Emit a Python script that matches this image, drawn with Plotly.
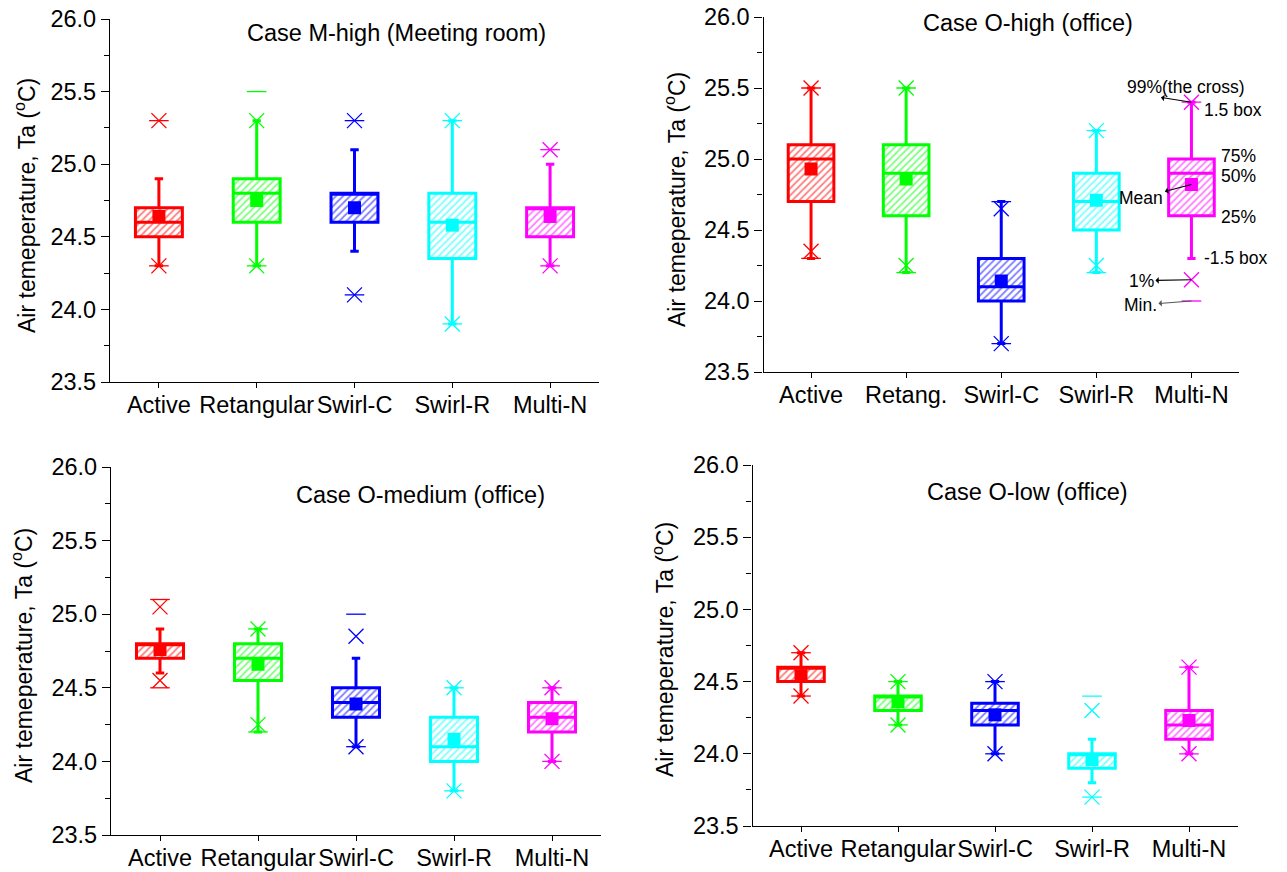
import plotly.graph_objects as go

# ---------------- data ----------------
COLORS = ["#FF0000", "#00FF00", "#0000FF", "#00FFFF", "#FF00FF"]

CATS_MH = ["Active", "Retangular", "Swirl-C", "Swirl-R", "Multi-N"]
MH_Q1 = [24.50, 24.60, 24.60, 24.35, 24.50]
MH_MED = [24.60, 24.80, 24.80, 24.60, 24.70]
MH_Q3 = [24.70, 24.90, 24.80, 24.80, 24.70]
MH_WLO = [24.30, 24.30, 24.40, 23.90, 24.30]
MH_WHI = [24.90, 25.30, 25.10, 25.30, 25.00]
MH_MEAN = [24.64, 24.75, 24.70, 24.58, 24.64]
MH_P1 = [24.30, 24.30, 24.10, 23.90, 24.30]
MH_P99 = [25.30, 25.30, 25.30, 25.30, 25.10]
MH_MIN = [24.30, 24.30, 24.10, 23.90, 24.30]
MH_MAX = [25.30, 25.50, 25.30, 25.30, 25.10]

CATS_OH = ["Active", "Retang.", "Swirl-C", "Swirl-R", "Multi-N"]
OH_Q1 = [24.70, 24.60, 24.00, 24.50, 24.60]
OH_MED = [25.00, 24.90, 24.10, 24.70, 24.90]
OH_Q3 = [25.10, 25.10, 24.30, 24.90, 25.00]
OH_WLO = [24.30, 24.20, 23.70, 24.20, 24.30]
OH_WHI = [25.50, 25.50, 24.70, 25.20, 25.40]
OH_MEAN = [24.93, 24.86, 24.14, 24.71, 24.82]
OH_P1 = [24.35, 24.25, 23.70, 24.25, 24.15]
OH_P99 = [25.50, 25.50, 24.65, 25.20, 25.40]
OH_MIN = [24.30, 24.20, 23.70, 24.20, 24.00]
OH_MAX = [25.50, 25.50, 24.70, 25.20, 25.40]

CATS_OM = ["Active", "Retangular", "Swirl-C", "Swirl-R", "Multi-N"]
OM_Q1 = [24.70, 24.55, 24.30, 24.00, 24.20]
OM_MED = [24.80, 24.70, 24.40, 24.10, 24.30]
OM_Q3 = [24.80, 24.80, 24.50, 24.30, 24.40]
OM_WLO = [24.60, 24.20, 24.10, 23.80, 24.00]
OM_WHI = [24.90, 24.90, 24.70, 24.50, 24.50]
OM_MEAN = [24.76, 24.66, 24.39, 24.15, 24.29]
OM_P1 = [24.55, 24.25, 24.10, 23.80, 24.00]
OM_P99 = [25.05, 24.90, 24.85, 24.50, 24.50]
OM_MIN = [24.50, 24.20, 24.10, 23.80, 24.00]
OM_MAX = [25.10, 24.90, 25.00, 24.50, 24.50]

CATS_OL = ["Active", "Retangular", "Swirl-C", "Swirl-R", "Multi-N"]
OL_Q1 = [24.50, 24.30, 24.20, 23.90, 24.10]
OL_MED = [24.60, 24.40, 24.30, 24.00, 24.20]
OL_Q3 = [24.60, 24.40, 24.35, 24.00, 24.30]
OL_WLO = [24.40, 24.20, 24.00, 23.80, 24.00]
OL_WHI = [24.70, 24.50, 24.50, 24.10, 24.60]
OL_MEAN = [24.54, 24.36, 24.27, 23.96, 24.23]
OL_P1 = [24.40, 24.20, 24.00, 23.70, 24.00]
OL_P99 = [24.70, 24.50, 24.50, 24.30, 24.60]
OL_MIN = [24.40, 24.20, 24.00, 23.70, 24.00]
OL_MAX = [24.70, 24.50, 24.50, 24.40, 24.60]

TITLES = ["Case M-high (Meeting room)", "Case O-high (office)",
          "Case O-medium (office)", "Case O-low (office)"]
YTITLE = "Air temeperature, Ta (<sup>o</sup>C)"

FONT = "Arial, Liberation Sans, sans-serif"
BOXW = 0.48

panels = [
    (CATS_MH, MH_Q1, MH_MED, MH_Q3, MH_WLO, MH_WHI, MH_MEAN, MH_P1, MH_P99, MH_MIN, MH_MAX),
    (CATS_OH, OH_Q1, OH_MED, OH_Q3, OH_WLO, OH_WHI, OH_MEAN, OH_P1, OH_P99, OH_MIN, OH_MAX),
    (CATS_OM, OM_Q1, OM_MED, OM_Q3, OM_WLO, OM_WHI, OM_MEAN, OM_P1, OM_P99, OM_MIN, OM_MAX),
    (CATS_OL, OL_Q1, OL_MED, OL_Q3, OL_WLO, OL_WHI, OL_MEAN, OL_P1, OL_P99, OL_MIN, OL_MAX),
]

# page body margin offset (browser default 8px)
OFF = 8
W, H = 1287 - OFF, 872 - OFF
# page-pixel domains [x0, x1, ytop, ybottom]
DOMS = [(110, 599, 19, 382), (763.5, 1239, 17, 372),
        (111, 601, 467, 835), (752.5, 1237.5, 465, 826)]


def px(x):
    return (x - OFF) / W


def py(y):
    return 1 - (y - OFF) / H


fig = go.Figure()

for p, (cats, q1, med, q3, wlo, whi, mean, p1, p99, mn, mx) in enumerate(panels):
    sfx = "" if p == 0 else str(p + 1)
    xa, ya = "x" + sfx, "y" + sfx
    for i, c in enumerate(cats):
        col = COLORS[i]
        # hatched fill
        fig.add_trace(go.Bar(
            x=[c], y=[q3[i] - q1[i]], base=[q1[i]], width=BOXW,
            marker=dict(color="white", line=dict(width=0),
                        pattern=dict(shape="/", fgcolor=col, bgcolor="white",
                                     size=5, solidity=0.35)),
            xaxis=xa, yaxis=ya, showlegend=False, hoverinfo="skip"))
        # box + whiskers
        fig.add_trace(go.Box(
            x=[c], q1=[q1[i]], median=[med[i]], q3=[q3[i]],
            lowerfence=[wlo[i]], upperfence=[whi[i]],
            width=BOXW, whiskerwidth=0.18, boxpoints=False,
            fillcolor="rgba(0,0,0,0)", line=dict(color=col, width=3),
            xaxis=xa, yaxis=ya, showlegend=False, hoverinfo="skip"))
    # mean squares
    fig.add_trace(go.Scatter(
        x=cats, y=mean, mode="markers",
        marker=dict(symbol="square", size=13, color=COLORS, line=dict(width=0)),
        xaxis=xa, yaxis=ya, showlegend=False, hoverinfo="skip"))
    # 1% / 99% crosses
    for arr in (p1, p99):
        fig.add_trace(go.Scatter(
            x=cats, y=arr, mode="markers",
            marker=dict(symbol="x-thin-open", size=15, color=COLORS,
                        line=dict(width=1.3, color=COLORS)),
            xaxis=xa, yaxis=ya, showlegend=False, hoverinfo="skip"))
    # min / max dashes
    for arr in (mn, mx):
        fig.add_trace(go.Scatter(
            x=cats, y=arr, mode="markers",
            marker=dict(symbol="line-ew-open", size=14, color=COLORS,
                        line=dict(width=1.3, color=COLORS)),
            xaxis=xa, yaxis=ya, showlegend=False, hoverinfo="skip"))

layout = dict(
    width=W, height=H, margin=dict(l=0, r=0, t=0, b=0, autoexpand=False),
    paper_bgcolor="white", plot_bgcolor="white",
    barmode="overlay", boxmode="overlay", hovermode=False,
    font=dict(family=FONT, size=23, color="black"),
)

annotations = []
for p in range(4):
    sfx = "" if p == 0 else str(p + 1)
    x0, x1, yt, yb = DOMS[p]
    layout["xaxis" + sfx] = dict(
        domain=[px(x0), px(x1)], anchor="y" + sfx, type="category",
        range=[-0.5, 4.5], showline=True, linecolor="black", linewidth=1.3,
        ticks="outside", ticklen=5, tickwidth=1.3, tickcolor="black", tickangle=0,
        ticklabelstandoff=-3,
        showgrid=False, zeroline=False, fixedrange=True, automargin=False,
        ticklabeloverflow="allow",
        tickfont=dict(family=FONT, size=23.5, color="black"))
    layout["yaxis" + sfx] = dict(
        domain=[py(yb), py(yt)], anchor="x" + sfx,
        range=[23.5, 26.0], dtick=0.5, tick0=23.5, tickformat=".1f",
        showline=True, linecolor="black", linewidth=1.3,
        ticks="outside", ticklen=8, tickwidth=1.3, tickcolor="black",
        minor=dict(ticks="outside", ticklen=5, tickwidth=1.3, dtick=0.25,
                   tickcolor="black", showgrid=False),
        showgrid=False, zeroline=False, fixedrange=True, automargin=False,
        ticklabeloverflow="allow",
        tickfont=dict(family=FONT, size=23.5, color="black"))

# panel titles
TITLE_POS = [(396, 33), (1028, 23), (420, 495), (1027, 492)]
for t, (tx, ty) in zip(TITLES, TITLE_POS):
    annotations.append(dict(text=t, x=px(tx), y=py(ty), xref="paper", yref="paper",
                            showarrow=False, xanchor="center", yanchor="middle",
                            font=dict(family=FONT, size=23.5, color="black")))
# y titles
YT_POS = [(25, 206), (675, 200), (22, 656), (663, 650)]
for (tx, ty) in YT_POS:
    annotations.append(dict(text=YTITLE, x=px(tx), y=py(ty), xref="paper", yref="paper",
                            showarrow=False, textangle=-90, xanchor="center", yanchor="middle",
                            font=dict(family=FONT, size=23, color="black")))

# explanation labels in panel 2 (Multi-N box)
k = 4
cat = CATS_OH[k]
AF = dict(family=FONT, size=17.5, color="black")


def lab(text, y, xanchor, xshift, yshift):
    annotations.append(dict(text=text, x=cat, y=y, xref="x2", yref="y2", showarrow=False,
                            xanchor=xanchor, yanchor="middle", xshift=xshift, yshift=yshift,
                            font=AF))


def lab_arrow(text, y, ax, ay, color="black"):
    # text placed at pixel offset (ax, ay) from the marker; arrow head at the text side
    annotations.append(dict(text=text, x=cat, y=y, xref="x2", yref="y2", showarrow=True,
                            ax=ax, ay=ay, axref="pixel", ayref="pixel",
                            arrowside="start", arrowhead=2, arrowsize=1.2, arrowwidth=1.1,
                            arrowcolor=color, standoff=0, startstandoff=0, font=AF))


lab("99%(the cross)", OH_P99[k], "center", -5, 15)
annotations.append(dict(text="", x=cat, y=OH_P99[k], xref="x2", yref="y2", showarrow=True,
                        ax=-32, ay=-5, axref="pixel", ayref="pixel",
                        arrowside="start", arrowhead=2, arrowsize=1.2, arrowwidth=1.1,
                        arrowcolor="black"))
lab("1.5 box", OH_WHI[k], "left", 11, -8)
lab("75%", OH_Q3[k], "left", 28, 3)
lab("50%", OH_MED[k], "left", 28, -3)
lab("25%", OH_Q1[k], "left", 28, -1)
lab("-1.5 box", OH_WLO[k], "left", 11, 0)
lab_arrow("Mean", OH_MEAN[k], -50, 13)
lab_arrow("1%", OH_P1[k], -50, 1)
lab_arrow("Min.", OH_MIN[k], -51, 4, color="#555555")

layout["annotations"] = annotations
fig.update_layout(**layout)

fig.write_html("out.html")
